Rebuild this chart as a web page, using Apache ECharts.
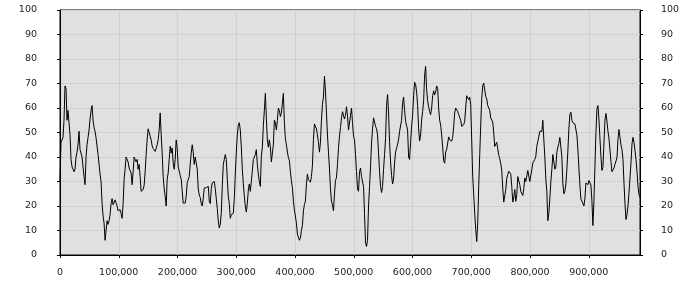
<!DOCTYPE html>
<html>
<head>
<meta charset="utf-8">
<script src="https://cdn.jsdelivr.net/npm/echarts@6/dist/echarts.min.js"></script>
<style>
html,body{margin:0;padding:0;background:#fff;}
#c{width:700px;height:300px;}
</style>
</head>
<body>
<div id="c"></div>
<script>
// Sampling interval along the x axis (one sample per step)
const X_STEP = 1705;

// Series values, in six consecutive segments
const seg1 = [30,46,46,48,55,69,68,55,59,54,
  49,39,36,35.5,34,35,40,42,45,50.5,
  43,43.5,40,36,32,28.7,40,45,48,51,
  55.5,59,61,55,52,50.5,47.8,47,41,37,
  33,30,21,16,13,6,10,14,12.5,14,
  16.5,21,23,20.5,21,22.5,23,20,18,18.5,
  18.5,17,15,21,31,35,40,40,38,35.5,
  35,33.5,28.7,34,40,39,38,39,35,37,
  32,26,25.5,26.7,28.5,34,41,47,51.5,52,
  48.5,47,44.5,43.5,44,42.3,43.5];
const seg2 = [45,47,51,58,49,41.6,32,27,24,20,
  31,33.5,39,44.4,41.6,43.7,37.5,35,39,47,
  43.7,36,35.3,32.5,31,26,21.2,21.2,21.2,24,
  29.5,30,32,37,41.6,45,42,37,40,40,
  35,27,24.5,23.5,21,20,23,27.3,28,27.5,
  28,28,22,21,27,29.5,30,30,27,23,
  19,14,11,12.5,17,28,37,39,41,39,
  31,24,21,15,16.5,16.5,17,23,33,42,
  49,53,54,51,44,35,29,24,20,17.5,
  21,26.5,29,26,30,34.5,39];
const seg3 = [40,41,43,37,33,30,28,40.5,44,53,
  59,66,56,47,44,47,44,38,38,45,
  55,54,51,55,60,59,56.5,58,62,66,
  54,47.5,45,42,39.8,38.5,34,30.3,27.5,22,
  18.5,18.5,13,8.5,7.8,6,7,10,12,18,
  20.6,22,29,33,30.7,30.2,29.7,32,36.5,47,
  53.5,54,51.5,49,46,42,46,55,61.5,64.5,
  73,67,58,49,42,35.5,27,22,20.5,18,
  25,30.5,31.5,37,43.5,48.5,52,56,58.5,58.2,
  55.5,57,60.5,57,51,50.5,57];
const seg4 = [60,54,48.5,47,41,34,27,26,34,35.5,
  32,32.5,28,17,5,3.5,6,20,28,36,
  45.7,51.5,56,55.5,52.5,51.5,49,41.6,34,28,
  25.5,28,35,41,47.5,61,65.5,58,46,38,
  32.5,29,31,37.5,42,43.5,43,47,50.5,51,
  55,62,64.5,59,54.5,55,51,40,39,46,
  52.5,57,65,70.5,69.5,66.5,61,51.5,46.5,49,
  55,58.5,63,73.5,77,67.5,63,60.5,58.5,57.3,
  60,65,67,65.4,66.5,69,68,60,55,53,
  49,44,38.5,37.5,42,43,43];
const seg5 = [48.2,47,47.5,46.5,48,52.5,58,60,59.5,58.6,
  57.3,57,55,52.5,53,53.2,54.6,60,65,65.8,
  63.4,64.4,61.3,47,32,24.6,17,10.4,5.5,13,
  28,41,53,64,69.1,70.2,71,64.7,63.7,61,
  60,59,55.9,55.6,54.3,49.8,44.3,43.7,46,43.4,
  40.7,39.3,37.3,34.5,27.3,21.6,21.6,26.7,31.4,32.8,
  34.2,34.4,33,28,21.6,23.7,26.7,21.9,24.6,32,
  31.5,28.7,26,25.3,24.3,27,31.4,30,30.4,34.5,
  34.8,30,29.4,34.8,37.6,38.3,39,40.3,44.4,46.4,
  48.4,50.5,49.8,50.4,55,47,40];
const seg6 = [31,26,14,17,23,30,35,41,41,35,
  36,42,44,45.5,48,47.5,40,29,25,26,
  29,35,42.5,51.5,57.3,58.3,55,54,53.9,53.5,
  52.9,49,43,35.5,28.7,22.9,22,22.6,20,23,
  29.4,29.4,28.7,30.4,30,28.6,22,12,22,36,
  50,59.5,61,55.5,47.7,40.3,34.5,35.8,45.7,55,
  57.8,54.7,50.5,47.7,43,38.2,34,34.8,35.5,37,
  37.5,39.6,47,51.2,50.5,45,43,39,29.4,21,
  14.5,16.5,19.9,25.3,31.5,37.6,45.3,48,46,42.7,
  39,34.2,28,24.7,23.5];

// Axis tick values
const yTicks = [0,10,20,30,40,50,60,70,80,90,100];
const xTickInterval = 100000;

const values = [].concat(seg1, seg2, seg3, seg4, seg5, seg6);
const seriesData = values.map((v, i) => [i * X_STEP, v]);
const xMax = (values.length - 1) * X_STEP;

const font = 'DejaVu Sans';
const labelColor = '#222';

const yAxisBase = {
  type: 'value',
  min: yTicks[0],
  max: yTicks[yTicks.length - 1],
  interval: yTicks[1] - yTicks[0],
  axisLine: {show: true, lineStyle: {color: '#000', width: 1}},
  axisTick: {show: true, length: 3, lineStyle: {color: '#000'}},
};

const chart = echarts.init(document.getElementById('c'), null, {renderer: 'canvas'});
chart.setOption({
  animation: false,
  backgroundColor: '#ffffff',
  grid: {
    left: 60, right: 60, top: 10, bottom: 45,
    show: true, backgroundColor: '#e0e0e0',
    borderColor: '#000', borderWidth: 1
  },
  xAxis: {
    type: 'value',
    min: 0,
    max: xMax,
    interval: xTickInterval,
    axisLine: {show: true, onZero: false, lineStyle: {color: '#000', width: 1}},
    axisTick: {show: true, length: 3, lineStyle: {color: '#000'}},
    axisLabel: {margin: 13, fontFamily: font, fontSize: 9.5, color: labelColor, showMaxLabel: false},
    splitLine: {show: true, lineStyle: {color: '#d0d0d0', width: 1}}
  },
  yAxis: [
    Object.assign({}, yAxisBase, {
      position: 'left',
      axisLabel: {margin: 23, fontFamily: font, fontSize: 9.5, color: labelColor},
      splitLine: {show: true, lineStyle: {color: '#d0d0d0', width: 1}}
    }),
    Object.assign({}, yAxisBase, {
      position: 'right',
      axisLabel: {margin: 21, fontFamily: font, fontSize: 9.5, color: labelColor},
      splitLine: {show: false}
    })
  ],
  series: [{
    type: 'line',
    data: seriesData,
    yAxisIndex: 0,
    showSymbol: false,
    symbol: 'none',
    silent: true,
    lineStyle: {color: '#000', width: 1}
  }]
});
</script>
</body>
</html>
